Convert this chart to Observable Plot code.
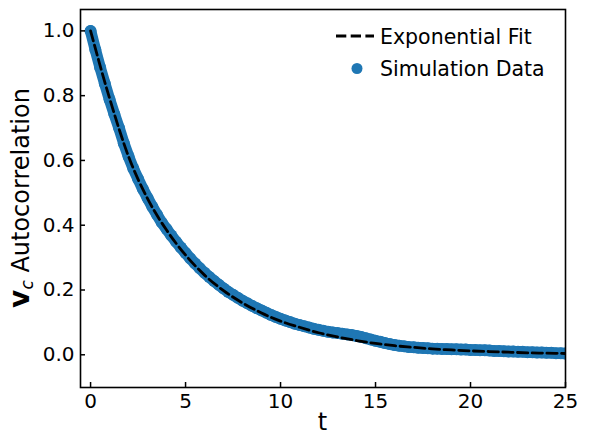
<!DOCTYPE html>
<html>
<head>
<meta charset="utf-8">
<script src="https://cdn.jsdelivr.net/npm/d3@7"></script>
<script src="https://cdn.jsdelivr.net/npm/@observablehq/plot@0.6"></script>
<style>
  html, body { margin: 0; padding: 0; background: white; }
  #chart { position: relative; width: 596px; height: 435px; }
</style>
</head>
<body>
<div id="chart"></div>
<script>
// Simulation data (t, autocorrelation)
const simT = [
  0, 0.25, 0.5, 0.75, 1, 1.25, 1.5, 1.75, 2, 2.25, 2.5, 2.75, 3, 3.25, 3.5, 3.75,
  4, 4.25, 4.5, 4.75, 5, 5.25, 5.5, 5.75, 6, 6.25, 6.5, 6.75, 7, 7.25, 7.5, 7.75,
  8, 8.25, 8.5, 8.75, 9, 9.25, 9.5, 9.75, 10, 10.25, 10.5, 10.75, 11, 11.25, 11.5, 11.75,
  12, 12.25, 12.5, 12.75, 13, 13.25, 13.5, 13.75, 14, 14.25, 14.5, 14.75, 15, 15.25, 15.5, 15.75,
  16, 16.25, 16.5, 16.75, 17, 17.25, 17.5, 17.75, 18, 18.25, 18.5, 18.75, 19, 19.25, 19.5, 19.75,
  20, 20.25, 20.5, 20.75, 21, 21.25, 21.5, 21.75, 22, 22.25, 22.5, 22.75, 23, 23.25, 23.5, 23.75,
  24, 24.25, 24.5, 24.75, 25
];
const simY = [
  1.000, 0.942, 0.888, 0.837, 0.788, 0.743, 0.700, 0.653, 0.612, 0.575, 0.543, 0.512, 0.484, 0.457, 0.432, 0.408,
  0.388, 0.368, 0.349, 0.331, 0.314, 0.297, 0.282, 0.267, 0.253, 0.240, 0.228, 0.216, 0.205, 0.194, 0.185, 0.176,
  0.167, 0.159, 0.151, 0.144, 0.137, 0.130, 0.123, 0.117, 0.111, 0.106, 0.101, 0.096, 0.092, 0.088, 0.084, 0.080,
  0.077, 0.074, 0.071, 0.069, 0.067, 0.065, 0.063, 0.061, 0.058, 0.055, 0.051, 0.047, 0.043, 0.040, 0.036, 0.033,
  0.030, 0.028, 0.026, 0.024, 0.023, 0.022, 0.021, 0.020, 0.019, 0.019, 0.018, 0.018, 0.017, 0.017, 0.016, 0.016,
  0.015, 0.015, 0.014, 0.014, 0.013, 0.012, 0.012, 0.011, 0.010, 0.010, 0.009, 0.009, 0.008, 0.008, 0.007, 0.007,
  0.006, 0.006, 0.005, 0.005, 0.004
];

// Exponential fit (dashed line)
const fitT = [0, 1, 2, 3, 4, 5, 6, 7, 8, 9, 10, 11, 12, 13, 14, 15, 16, 17, 18, 19, 20, 21, 22, 23, 24, 25];
const fitY = [1.000, 0.792, 0.612, 0.482, 0.385, 0.308, 0.246, 0.198, 0.160, 0.129, 0.104, 0.085, 0.068,
              0.055, 0.044, 0.035, 0.028, 0.023, 0.018, 0.015, 0.012, 0.010, 0.008, 0.006, 0.005, 0.004];

// Tick labels
const xTicks = [0, 5, 10, 15, 20, 25];
const yTicks = [0.0, 0.2, 0.4, 0.6, 0.8, 1.0];

const legendLabels = ["Exponential Fit", "Simulation Data"];
const xLabel = "t";
const yLabelMain = "v";
const yLabelSub = "c";
const yLabelRest = " Autocorrelation";

const BLUE = "#1f77b4";
const DASH = "10.3,4.4";

const sim = simT.map((t, i) => ({t, v: simY[i]}));
const fit = fitT.map((t, i) => ({t, v: fitY[i]}));

const W = 596, H = 435;
const mL = 80, mR = 31, mT = 9, mB = 48;
const frameW = W - mL - mR, frameH = H - mT - mB;
const TICK = 5;

const svg = Plot.plot({
  width: W, height: H,
  marginLeft: mL, marginRight: mR, marginTop: mT, marginBottom: mB,
  style: {fontFamily: "'DejaVu Sans', sans-serif", fontSize: "20px", color: "black", background: "white", overflow: "visible"},
  x: {domain: [-0.53, 25], ticks: xTicks},
  y: {domain: [-0.101, 1.066], ticks: yTicks},
  marks: [
    Plot.line(sim, {x: "t", y: "v", stroke: BLUE, strokeWidth: 11.5, strokeLinecap: "round", clip: true}),
    Plot.dot(sim, {x: "t", y: "v", r: 6, fill: BLUE, stroke: "none", clip: true}),
    Plot.line(fit, {x: "t", y: "v", curve: "monotone-x", stroke: "black", strokeWidth: 2.8, strokeDasharray: DASH, clip: true}),
    Plot.axisX({ticks: xTicks, tickSize: 0, tickPadding: 6, label: null, fontSize: 20}),
    Plot.axisY({ticks: yTicks, tickSize: 0, tickPadding: 6, label: null, fontSize: 20, tickFormat: d3.format(".1f")}),
    Plot.tickX(xTicks, {x: d => d, insetTop: frameH - TICK, stroke: "black", strokeWidth: 1.5}),
    Plot.tickY(yTicks, {y: d => d, insetRight: frameW - TICK, stroke: "black", strokeWidth: 1.5}),
    Plot.frame({stroke: "black", strokeWidth: 1.6})
  ]
});

const s = d3.select(svg);
const font = "'DejaVu Sans', sans-serif";

// x label
s.append("text")
  .attr("x", mL + frameW / 2).attr("y", 430)
  .attr("text-anchor", "middle")
  .attr("font-family", font).attr("font-size", 24)
  .attr("fill", "black")
  .text(xLabel);

// y label
const yl = s.append("text")
  .attr("transform", `translate(29,${mT + frameH / 2}) rotate(-90)`)
  .attr("text-anchor", "middle")
  .attr("font-family", font).attr("font-size", 24)
  .attr("fill", "black");
yl.append("tspan").attr("font-weight", "bold").attr("font-size", 28).text(yLabelMain);
yl.append("tspan").attr("font-style", "italic").attr("font-size", 17).attr("dy", 4).text(yLabelSub);
yl.append("tspan").attr("dy", -4).text(yLabelRest);

// legend
const lg = s.append("g").attr("font-family", font).attr("font-size", 20.5).attr("fill", "black")
  .attr("text-anchor", "start");
lg.append("line").attr("x1", 336).attr("x2", 374).attr("y1", 36).attr("y2", 36)
  .attr("stroke", "black").attr("stroke-width", 2.8).attr("stroke-dasharray", DASH);
lg.append("text").attr("x", 380).attr("y", 43.5).attr("text-anchor", "start").text(legendLabels[0]);
lg.append("circle").attr("cx", 357).attr("cy", 68.5).attr("r", 5.5).attr("fill", BLUE);
lg.append("text").attr("x", 380).attr("y", 75.5).attr("text-anchor", "start").text(legendLabels[1]);

document.getElementById("chart").appendChild(svg);
</script>
</body>
</html>
